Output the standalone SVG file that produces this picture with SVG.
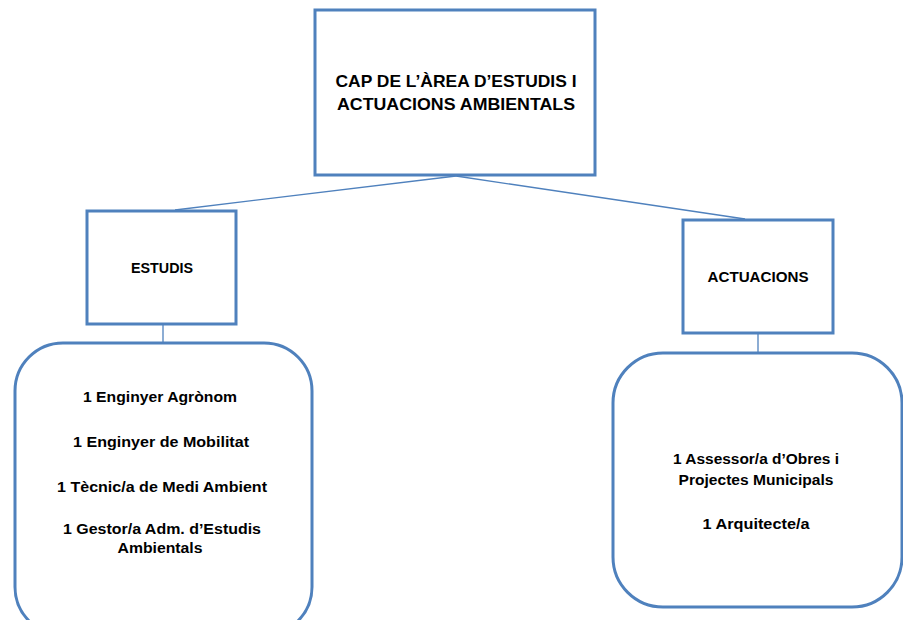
<svg xmlns="http://www.w3.org/2000/svg" width="903" height="620" viewBox="0 0 903 620">
<style>
.box{fill:#fff;stroke:#4F81BD;stroke-width:3}
.conn{stroke:#4F81BD;stroke-width:1.3;fill:none}
text{font-family:"Liberation Sans",Arial,sans-serif;font-weight:bold;fill:#000;text-anchor:middle}
.t{font-size:16.5px}
.s{font-size:14.5px}
</style>
<rect width="903" height="620" fill="#fff"/>
<g id="connectors">
<line class="conn" x1="456" y1="176" x2="175" y2="210"/>
<line class="conn" x1="456" y1="176" x2="745" y2="219"/>
<line class="conn" x1="163" y1="324" x2="163" y2="343"/>
<line class="conn" x1="758" y1="333" x2="758" y2="353"/>
</g>
<g id="cap">
<rect class="box" x="315" y="10" width="280" height="165"/>
<text class="t" x="456" y="87" textLength="241" lengthAdjust="spacingAndGlyphs">CAP DE L’ÀREA D’ESTUDIS I</text>
<text class="t" x="456" y="110" textLength="238" lengthAdjust="spacingAndGlyphs">ACTUACIONS AMBIENTALS</text>
</g>
<g id="estudis">
<rect class="box" x="87" y="211" width="149" height="113"/>
<text class="s" x="162" y="273" textLength="62" lengthAdjust="spacingAndGlyphs">ESTUDIS</text>
</g>
<g id="actuacions">
<rect class="box" x="683" y="220" width="150" height="113"/>
<text class="s" x="758" y="282" textLength="101" lengthAdjust="spacingAndGlyphs">ACTUACIONS</text>
</g>
<g id="estudis-staff">
<rect class="box" x="15" y="343" width="297" height="292" rx="48" ry="48"/>
<text class="s" x="160" y="402" textLength="154" lengthAdjust="spacingAndGlyphs">1 Enginyer Agrònom</text>
<text class="s" x="161" y="447" textLength="176" lengthAdjust="spacingAndGlyphs">1 Enginyer de Mobilitat</text>
<text class="s" x="162" y="492" textLength="210" lengthAdjust="spacingAndGlyphs">1 Tècnic/a de Medi Ambient</text>
<text class="s" x="162" y="534" textLength="198" lengthAdjust="spacingAndGlyphs">1 Gestor/a Adm.  d’Estudis</text>
<text class="s" x="160" y="553" textLength="85" lengthAdjust="spacingAndGlyphs">Ambientals</text>
</g>
<g id="actuacions-staff">
<rect class="box" x="613" y="353" width="289" height="254" rx="50" ry="50"/>
<text class="s" x="756" y="464" textLength="166" lengthAdjust="spacingAndGlyphs">1 Assessor/a  d’Obres i</text>
<text class="s" x="756" y="485" textLength="155" lengthAdjust="spacingAndGlyphs">Projectes Municipals</text>
<text class="s" x="756" y="529" textLength="107" lengthAdjust="spacingAndGlyphs">1 Arquitecte/a</text>
</g>
</svg>
